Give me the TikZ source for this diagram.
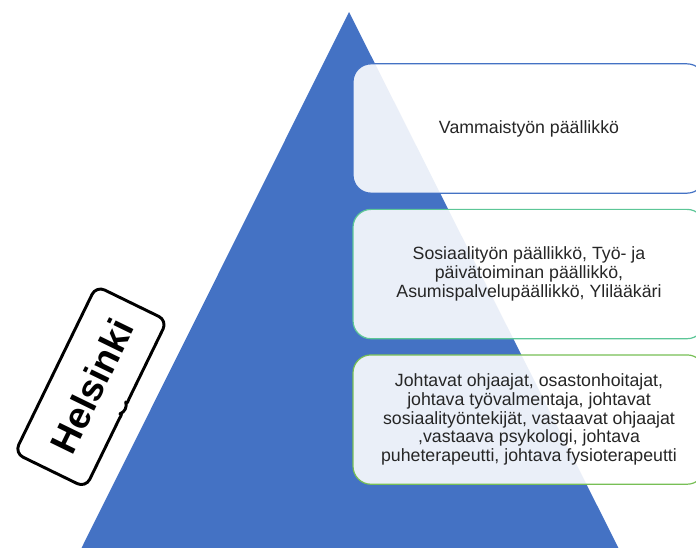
\documentclass[tikz,border=0pt]{standalone}
\usepackage{fontspec}
\setmainfont{Liberation Sans}
\usepackage{tikz}
\usetikzlibrary{positioning}
\definecolor{PyramidBlue}{HTML}{4472C4}
\definecolor{LevelTeal}{HTML}{5CC697}
\definecolor{LevelGreen}{HTML}{77BF55}
\definecolor{TextGray}{HTML}{262626}
\tikzset{
  levelbox/.style={rectangle, rounded corners=13.5pt, line width=0.9pt, fill=white, fill opacity=0.89, text opacity=1, text=TextGray, minimum width=264pt, minimum height=97pt, font=\fontsize{13.3}{14}\selectfont, align=center},
  citybubble/.style={draw=black, line width=2.2pt, line join=round, rounded corners=7pt, fill=white},
  citylabel/.style={font=\fontsize{28}{30}\selectfont\bfseries, text=black, inner sep=0pt}
}

\begin{document}
\begin{tikzpicture}[x=0.75pt, y=-0.75pt]
  \useasboundingbox (0,0) rectangle (696,547);
  % pyramid
  \fill[PyramidBlue] (349,12) -- (620,551) -- (80,551) -- cycle;

  % levels
  \node[levelbox, draw=PyramidBlue] (top) at (529,128.5) {Vammaistyön päällikkö};
  \node[levelbox, draw=LevelTeal, below=11.25pt of top] (middle) {Sosiaalityön päällikkö, Työ- ja\\päivätoiminan päällikkö,\\Asumispalvelupäällikkö, Ylilääkäri};
  \node[levelbox, draw=LevelGreen, below=11.25pt of middle] (bottom) {Johtavat ohjaajat, osastonhoitajat,\\johtava työvalmentaja, johtavat\\sosiaalityöntekijät, vastaavat ohjaajat\\,vastaava psykologi, johtava\\puheterapeutti, johtava fysioterapeutti};

  % city label
  \begin{scope}[shift={(90,383)}, rotate=64]
    \draw[citybubble] (-96,-37) -- (90,-37) -- (90,42) -- (12,42)
      .. controls (2,42) and (-4,43) .. (-8,47)
      .. controls (-12,43) and (-18,42) .. (-28,42) -- (-96,42) -- cycle;
    \node[citylabel, rotate=64] (city) at (-2,3) {Helsinki};
  \end{scope}
\end{tikzpicture}
\end{document}
